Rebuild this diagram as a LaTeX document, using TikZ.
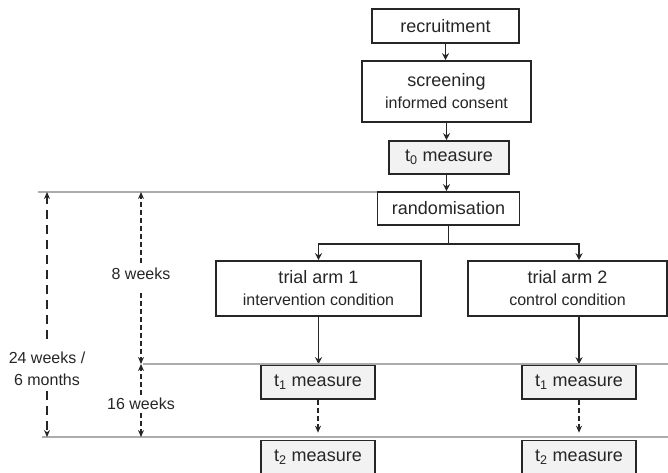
\documentclass[tikz,border=0pt]{standalone}
\usepackage{fontspec}
\setmainfont{Liberation Sans}
\usetikzlibrary{arrows.meta, calc}
\tikzset{
  flowBox/.style={draw=black!85, line width=1.6pt, fill=white, align=center,
    inner sep=0pt, text=black!85, font=\fontsize{18}{22}\selectfont},
  % caixas de medida (cinza claro)
  measureBox/.style={flowBox, fill=gray!10},
  flowArrow/.style={-{Stealth[length=7pt, width=7pt]}, line width=1.8pt, draw=black!85},
  timeArrow/.style={-{Stealth[length=7pt, width=6pt]}, line width=1.8pt,
    draw=black!85, dash pattern=#1},
  phaseLine/.style={draw=gray!65, line width=1.2pt},
  timeLabel/.style={text=black!85, align=center, inner sep=1pt,
    font=\fontsize{16}{22}\selectfont}
}
\newcommand{\subText}[1]{{\fontsize{16}{22}\selectfont #1}}

\begin{document}
\begin{tikzpicture}[x=1pt, y=-1pt]
  \useasboundingbox (0,0) rectangle (668,472);

  %% --- PARTE 1: RECRUTAMENTO ---
  \node[flowBox, minimum width=147pt, minimum height=34pt] (recruit) at (445.5,26) {recruitment};
  \node[flowBox, minimum width=169pt, minimum height=61pt] (screen) at (446.5,91.5)
    {screening\\\subText{informed consent}};
  \node[measureBox, minimum width=120pt, minimum height=33pt] (tZero) at (449,157.5)
    {t\textsubscript{0} measure};
  \node[flowBox, minimum width=142pt, minimum height=33pt] (rand) at (448.5,208.5) {randomisation};

  \draw[flowArrow] (recruit.south) -- (recruit.south |- screen.north);
  \draw[flowArrow] (screen.south) -- (screen.south |- tZero.north);
  \draw[flowArrow] (screen.south |- tZero.south) -- (screen.south |- rand.north);

  %% --- PARTE 2: BRACOS DO ESTUDO ---
  \node[flowBox, minimum width=205pt, minimum height=55pt] (armOne) at (318.5,288.5)
    {trial arm 1\\\subText{intervention condition}};
  \node[flowBox, minimum width=199pt, minimum height=55pt] (armTwo) at (567.5,288.5)
    {trial arm 2\\\subText{control condition}};

  \node[measureBox, minimum width=114pt, minimum height=34pt] (tOneA) at (318,382) {t\textsubscript{1} measure};
  \node[measureBox, minimum width=114pt, minimum height=34pt] (tOneB) at (579,382) {t\textsubscript{1} measure};
  \node[measureBox, minimum width=114pt, minimum height=33pt] (tTwoA) at (318,457) {t\textsubscript{2} measure};
  \node[measureBox, minimum width=114pt, minimum height=33pt] (tTwoB) at (579,457) {t\textsubscript{2} measure};

  % divisao apos a randomizacao
  \coordinate (split) at ($(rand.south)+(0,18)$);
  \draw[line width=1.8pt, draw=black!85] (rand.south) -- (split);
  \draw[flowArrow] (split) -| (armOne.north);
  \draw[flowArrow] (split) -| (tOneB.north |- armTwo.north);

  \draw[flowArrow] (armOne.south) -- (armOne.south |- tOneA.north);
  \draw[flowArrow] (tOneB.north |- armTwo.south) -- (tOneB.north);
  \draw[timeArrow={on 5pt off 3pt}, shorten >=7pt] (tOneA.south) -- (tTwoA.north);
  \draw[timeArrow={on 5pt off 3pt}, shorten >=7pt] (tOneB.south) -- (tTwoB.north);

  %% --- PARTE 3: LINHA DO TEMPO ---
  \coordinate (phaseA) at (38,192);
  \coordinate (phaseB) at (143,364);
  \coordinate (phaseBEnd) at (668,364);
  \coordinate (phaseC) at (42,437);
  \coordinate (phaseCEnd) at (668,437);

  \draw[phaseLine] (phaseA) -- (rand.west |- phaseA);
  \draw[phaseLine] (phaseB) -- (phaseBEnd);
  \draw[phaseLine] (phaseC) -- (phaseCEnd);

  \node[timeLabel] (lblEight) at (141,274) {8 weeks};
  \node[timeLabel] (lblSixteen) at (141,404) {16 weeks};
  \node[timeLabel] (lblTotal) at (47,369) {24 weeks /\\6 months};

  \draw[timeArrow={on 5pt off 3pt}, shorten <=4pt] (lblEight.north) -- (lblEight.north |- phaseA);
  \draw[timeArrow={on 5pt off 3pt}, shorten <=12pt] (lblEight.south) -- (lblEight.south |- phaseB);
  \draw[timeArrow={on 5pt off 3pt}, shorten <=2pt] (lblSixteen.north) -- (lblSixteen.north |- phaseB);
  \draw[timeArrow={on 5pt off 3pt}, shorten <=2pt] (lblSixteen.south) -- (lblSixteen.south |- phaseC);
  \draw[timeArrow={on 9pt off 6pt}, shorten <=12pt] (lblTotal.north) -- (lblTotal.north |- phaseA);
  \draw[timeArrow={on 9pt off 6pt}, shorten <=4pt] (lblTotal.south) -- (lblTotal.south |- phaseC);
\end{tikzpicture}
\end{document}
